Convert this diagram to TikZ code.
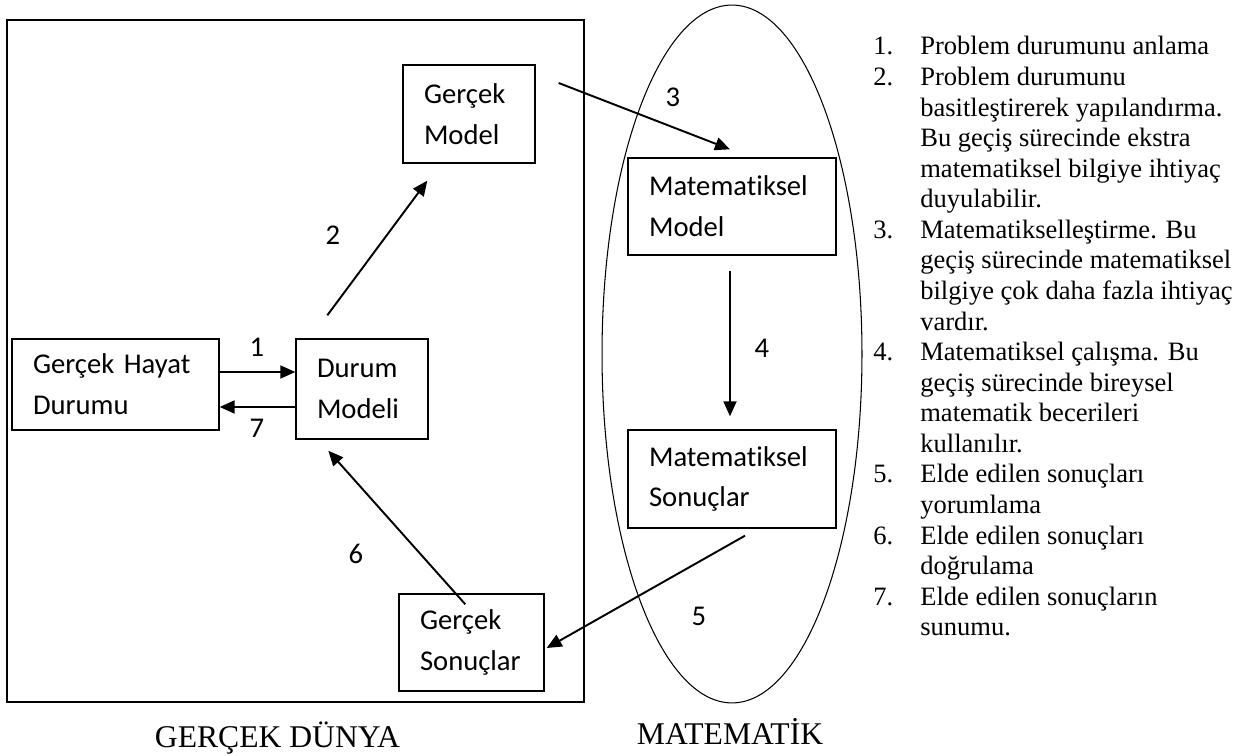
\documentclass[tikz,border=0pt]{standalone}
\usepackage{fontspec}
\setmainfont{Liberation Serif}
\newfontfamily\kutufont[Ligatures=NoCommon]{Carlito}
\usepackage{tikz}
\usetikzlibrary{arrows.meta,calc}

\newcommand{\kutuyazi}{\kutufont\fontsize{16.3pt}{23.2pt}\selectfont}
\newcommand{\listeyazi}{\fontsize{15.1pt}{17.4pt}\selectfont}
\newcommand{\altyazi}{\fontsize{18pt}{21pt}\selectfont}

\tikzset{
  kutu/.style={draw, line width=0.8pt, font=\kutuyazi, align=left, inner xsep=0.42cm, inner ysep=0pt},
  ok/.style={-{Triangle[length=0.3cm,width=0.26cm]}, line width=1.1pt},
  etiket/.style={font=\kutuyazi, inner sep=0pt},
}

\begin{document}
\begin{tikzpicture}[x=0.02cm, y=-0.02cm]
\useasboundingbox (0,0) rectangle (1245,756);
\draw[line width=0.8pt] (7,20) rectangle (584,702);
\draw[line width=0.6pt] (732,354) ellipse [x radius=2.6cm, y radius=6.98cm];

\node[kutu, text width=1.8cm, minimum height=1.96cm] (gm) at (469,114) {Gerçek\\Model};
\node[kutu, text width=3.3cm, minimum height=1.82cm] (gh) at (115.5,384.5) {Gerçek Hayat\\Durumu};
\node[kutu, text width=1.8cm, minimum height=2cm] (dm) at (362,389) {Durum\\Modeli};
\node[kutu, text width=3.32cm, minimum height=1.94cm] (mm) at (732,206.5) {Matematiksel\\Model};
\node[kutu, text width=3.32cm, minimum height=1.96cm] (ms) at (732,479) {Matematiksel\\Sonuçlar};
\node[kutu, text width=2.06cm, minimum height=1.94cm] (gs) at (471.5,642.5) {Gerçek\\Sonuçlar};

\draw[ok] ([yshift=0.25cm]gh.east) -- ([yshift=0.25cm]gh.east -| dm.west);
\draw[ok] ([yshift=-0.45cm]gh.east -| dm.west) -- ([yshift=-0.45cm]gh.east);
\draw[ok] ([xshift=0.64cm,yshift=0.46cm]dm.north west) -- ([xshift=0.5cm,yshift=-0.34cm]gm.south west);
\draw[ok] ([xshift=0.46cm,yshift=0.62cm]gm.east) -- ([xshift=-0.04cm,yshift=0.16cm]mm.north);
\draw[ok] ([xshift=-0.04cm,yshift=-0.3cm]mm.south) -- ([xshift=-0.04cm,yshift=0.26cm]ms.north);
\draw[ok] ([xshift=0.26cm,yshift=-0.14cm]ms.south) -- ([xshift=0.04cm,yshift=-0.11cm]gs.east);
\draw[ok] ([xshift=1.34cm,yshift=-0.22cm]gs.north west) -- ([xshift=0.66cm,yshift=-0.22cm]dm.south west);

\node[etiket] (e1) at (257,347) {1};
\node[etiket] (e2) at (333,235) {2};
\node[etiket] (e3) at (673,97) {3};
\node[etiket] (e4) at (762,348) {4};
\node[etiket, fill=white, minimum width=1.02cm, minimum height=0.98cm] (e5) at (699,616) {5};
\node[etiket, fill=white, minimum width=1.18cm, minimum height=0.98cm] (e6) at (356,554) {6};
\node[etiket] (e7) at (257,428) {7};

\node[anchor=base, font=\altyazi] (gd) at (277.5,747) {GERÇEK DÜNYA};
\node[anchor=base, font=\altyazi] (mt) at (730,745) {MATEMATİK};

\node[anchor=base west, inner sep=0pt, font=\listeyazi] (liste) at (873,55) {%
\begin{tabular}[t]{@{}p{0.94cm}@{}l@{}}
1. & Problem durumunu anlama\\
2. & Problem durumunu\\
   & basitleştirerek yapılandırma.\\
   & Bu geçiş sürecinde ekstra\\
   & matematiksel bilgiye ihtiyaç\\
   & duyulabilir.\\
3. & Matematikselleştirme. Bu\\
   & geçiş sürecinde matematiksel\\
   & bilgiye çok daha fazla ihtiyaç\\
   & vardır.\\
4. & Matematiksel çalışma. Bu\\
   & geçiş sürecinde bireysel\\
   & matematik becerileri\\
   & kullanılır.\\
5. & Elde edilen sonuçları\\
   & yorumlama\\
6. & Elde edilen sonuçları\\
   & doğrulama\\
7. & Elde edilen sonuçların\\
   & sunumu.
\end{tabular}};
\end{tikzpicture}
\end{document}
